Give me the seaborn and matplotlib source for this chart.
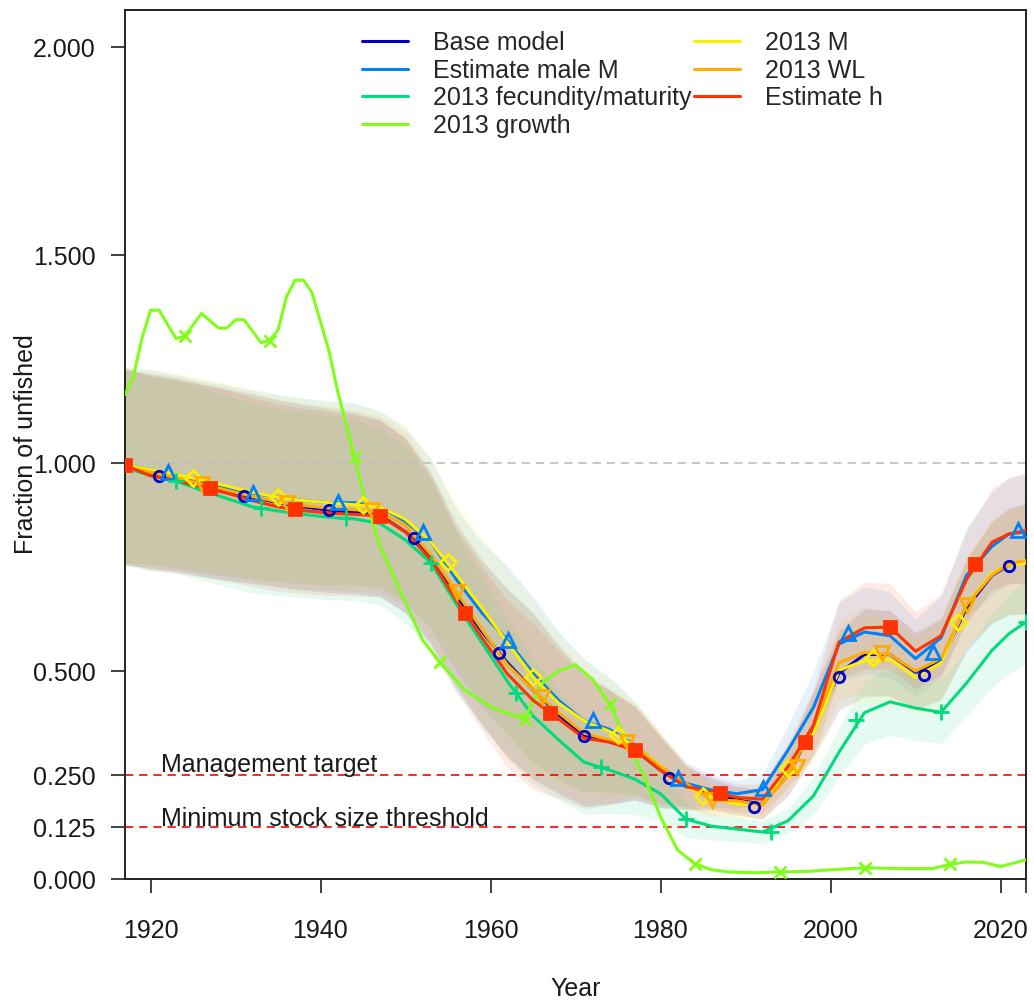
import numpy as np
import pandas as pd
import matplotlib
matplotlib.use("Agg")
import matplotlib.pyplot as plt
from matplotlib.lines import Line2D
import seaborn as sns

# ---------------- data ----------------
models = ["Base model", "Estimate male M", "2013 fecundity/maturity", "2013 growth",
          "2013 M", "2013 WL", "Estimate h"]
colors = ["#0000C6", "#0081F8", "#02DA7D", "#80FE1A", "#FDEE02", "#FFAB00", "#FF3300"]

years = [1917, 1920, 1923, 1926, 1929, 1932, 1935, 1938, 1941, 1944, 1947, 1950, 1953,
         1956, 1959, 1962, 1965, 1968, 1971, 1974, 1977, 1980, 1983, 1986, 1989, 1992,
         1995, 1998, 2001, 2004, 2007, 2010, 2013, 2016, 2019, 2021, 2023]

base = [0.990, 0.975, 0.962, 0.945, 0.930, 0.918, 0.905, 0.895, 0.887, 0.882, 0.875, 0.835, 0.775,
        0.680, 0.595, 0.520, 0.455, 0.395, 0.344, 0.330, 0.310, 0.262, 0.222, 0.205, 0.190, 0.180,
        0.250, 0.365, 0.495, 0.540, 0.540, 0.497, 0.525, 0.652, 0.730, 0.755, 0.763]
male_m = [0.995, 0.985, 0.970, 0.955, 0.940, 0.928, 0.918, 0.910, 0.905, 0.905, 0.895, 0.860, 0.810,
          0.720, 0.640, 0.574, 0.495, 0.430, 0.380, 0.360, 0.322, 0.270, 0.230, 0.214, 0.205, 0.215,
          0.310, 0.413, 0.565, 0.594, 0.585, 0.530, 0.580, 0.730, 0.800, 0.830, 0.835]
fecund = [0.990, 0.970, 0.957, 0.935, 0.915, 0.895, 0.885, 0.877, 0.870, 0.866, 0.855, 0.815, 0.760,
          0.660, 0.568, 0.475, 0.392, 0.335, 0.281, 0.262, 0.240, 0.205, 0.144, 0.127, 0.120, 0.113,
          0.140, 0.200, 0.305, 0.400, 0.426, 0.411, 0.401, 0.471, 0.550, 0.590, 0.618]
m2013 = [0.995, 0.985, 0.972, 0.960, 0.945, 0.930, 0.918, 0.910, 0.905, 0.900, 0.895, 0.865, 0.810,
         0.732, 0.652, 0.568, 0.486, 0.423, 0.380, 0.355, 0.320, 0.272, 0.222, 0.195, 0.180, 0.180,
         0.267, 0.350, 0.502, 0.525, 0.528, 0.485, 0.520, 0.660, 0.735, 0.755, 0.760]
wl2013 = [0.990, 0.978, 0.965, 0.950, 0.935, 0.920, 0.907, 0.898, 0.892, 0.888, 0.883, 0.850, 0.780,
          0.690, 0.600, 0.515, 0.455, 0.400, 0.351, 0.334, 0.318, 0.270, 0.230, 0.190, 0.188, 0.178,
          0.250, 0.370, 0.520, 0.545, 0.540, 0.500, 0.530, 0.659, 0.731, 0.758, 0.766]
est_h = [0.995, 0.970, 0.958, 0.943, 0.928, 0.910, 0.895, 0.886, 0.880, 0.877, 0.873, 0.835, 0.767,
         0.670, 0.580, 0.493, 0.430, 0.385, 0.339, 0.329, 0.310, 0.262, 0.222, 0.210, 0.196, 0.192,
         0.270, 0.370, 0.570, 0.604, 0.606, 0.548, 0.585, 0.720, 0.810, 0.830, 0.838]

growth_years = [1917, 1918, 1919, 1920, 1921, 1923, 1924, 1926, 1928, 1929, 1930, 1931, 1933, 1934,
                1935, 1936, 1937, 1938, 1939, 1941, 1942, 1944, 1945, 1947, 1949, 1952, 1954, 1957,
                1960, 1962, 1964, 1966, 1968, 1970, 1972, 1974, 1976, 1978, 1980, 1982, 1984, 1986,
                1988, 1991, 1994, 1997, 2000, 2004, 2008, 2012, 2014, 2016, 2018, 2020, 2023]
growth = [1.165, 1.210, 1.300, 1.368, 1.368, 1.300, 1.305, 1.360, 1.325, 1.325, 1.345, 1.345, 1.290,
          1.295, 1.320, 1.400, 1.440, 1.440, 1.410, 1.270, 1.175, 1.014, 0.930, 0.800, 0.710, 0.575,
          0.522, 0.454, 0.414, 0.399, 0.385, 0.470, 0.500, 0.515, 0.480, 0.422, 0.330, 0.250, 0.150,
          0.070, 0.037, 0.022, 0.017, 0.015, 0.017, 0.018, 0.022, 0.027, 0.025, 0.025, 0.035, 0.041,
          0.040, 0.030, 0.046]

# distance from each line to the upper / lower edge of its 95% interval
up_common = [0.235, 0.240, 0.243, 0.246, 0.248, 0.248, 0.247, 0.246, 0.245, 0.240, 0.230, 0.225, 0.200,
             0.170, 0.170, 0.178, 0.185, 0.165, 0.150, 0.125, 0.105, 0.080, 0.050, 0.037, 0.032, 0.037,
             0.060, 0.085, 0.100, 0.110, 0.105, 0.095, 0.100, 0.115, 0.130, 0.135, 0.140]
lo_common = [0.235, 0.228, 0.222, 0.217, 0.212, 0.207, 0.203, 0.200, 0.198, 0.196, 0.195, 0.195, 0.210,
             0.220, 0.225, 0.225, 0.215, 0.190, 0.170, 0.150, 0.120, 0.090, 0.055, 0.040, 0.035, 0.035,
             0.050, 0.070, 0.090, 0.100, 0.100, 0.090, 0.095, 0.105, 0.115, 0.120, 0.125]
up_fecund = [0.235, 0.240, 0.243, 0.246, 0.248, 0.248, 0.247, 0.246, 0.245, 0.240, 0.230, 0.225, 0.200,
             0.170, 0.160, 0.150, 0.140, 0.120, 0.110, 0.090, 0.075, 0.060, 0.040, 0.030, 0.028, 0.027,
             0.030, 0.045, 0.060, 0.075, 0.080, 0.078, 0.075, 0.080, 0.090, 0.095, 0.100]
lo_fecund = [0.235, 0.228, 0.222, 0.217, 0.212, 0.207, 0.203, 0.200, 0.198, 0.196, 0.195, 0.200, 0.210,
             0.210, 0.200, 0.185, 0.165, 0.145, 0.125, 0.105, 0.085, 0.065, 0.045, 0.033, 0.030, 0.028,
             0.030, 0.045, 0.060, 0.075, 0.080, 0.078, 0.075, 0.080, 0.090, 0.095, 0.100]

# plotted symbols
mk_base_years = [1921, 1931, 1941, 1951, 1961, 1971, 1981, 1991, 2001, 2011, 2021]
mk_base = [0.969, 0.921, 0.887, 0.820, 0.543, 0.344, 0.243, 0.173, 0.486, 0.490, 0.752]
mk_malem_years = [1922, 1932, 1942, 1952, 1962, 1972, 1982, 1992, 2002, 2012, 2022]
mk_malem = [0.978, 0.928, 0.907, 0.834, 0.574, 0.382, 0.243, 0.219, 0.591, 0.546, 0.839]
mk_fec_years = [1923, 1933, 1943, 1953, 1963, 1973, 1983, 1993, 2003, 2013, 2023]
mk_fec = [0.957, 0.892, 0.868, 0.760, 0.447, 0.269, 0.144, 0.112, 0.382, 0.401, 0.618]
mk_growth_years = [1924, 1934, 1944, 1954, 1964, 1974, 1984, 1994, 2004, 2014]
mk_growth = [1.305, 1.293, 1.014, 0.522, 0.385, 0.422, 0.037, 0.017, 0.027, 0.035]
mk_m_years = [1925, 1935, 1945, 1955, 1965, 1975, 1985, 1995, 2005, 2015]
mk_m = [0.964, 0.918, 0.899, 0.762, 0.486, 0.346, 0.200, 0.267, 0.531, 0.618]
mk_wl_years = [1926, 1936, 1946, 1956, 1966, 1976, 1986, 1996, 2006, 2016]
mk_wl = [0.950, 0.904, 0.887, 0.690, 0.438, 0.329, 0.190, 0.269, 0.543, 0.659]
mk_h_years = [1917, 1927, 1937, 1947, 1957, 1967, 1977, 1987, 1997, 2007, 2017]
mk_h = [0.995, 0.940, 0.889, 0.873, 0.639, 0.399, 0.310, 0.207, 0.330, 0.606, 0.757]

yticks = [0.0, 0.125, 0.25, 0.5, 1.0, 1.5, 2.0]
xticks = [1920, 1940, 1960, 1980, 2000, 2020, 2023]
xticklabels = ["1920", "1940", "1960", "1980", "2000", "2020", ""]

# ---------------- figure ----------------
sns.set_theme(style="ticks")
plt.rcParams["font.family"] = ["Liberation Sans", "DejaVu Sans"]

fig = plt.figure(figsize=(10.34, 10.05), dpi=100)
ax = fig.add_axes([125 / 1034, 1 - 879 / 1005, 901 / 1034, 869 / 1005])

series = {
    "Base model": (years, base, up_common, lo_common),
    "Estimate male M": (years, male_m, up_common, lo_common),
    "2013 fecundity/maturity": (years, fecund, up_fecund, lo_fecund),
    "2013 growth": (growth_years, growth, None, None),
    "2013 M": (years, m2013, up_common, lo_common),
    "2013 WL": (years, wl2013, up_common, lo_common),
    "Estimate h": (years, est_h, up_common, lo_common),
}
palette = dict(zip(models, colors))

# uncertainty bands
for name in models:
    yr, v, up, lo = series[name]
    if up is None:
        continue
    v = np.asarray(v)
    ax.fill_between(yr, v - np.asarray(lo), v + np.asarray(up), color=palette[name],
                    alpha=0.1, lw=0, zorder=1)

# reference lines
ax.axhline(1.0, color="#BEBEBE", lw=1.2, ls=(0, (5, 3.5)), zorder=2)
ax.axhline(0.25, color="#FF0000", lw=1.2, ls=(0, (5, 3.5)), zorder=2)
ax.axhline(0.125, color="#FF0000", lw=1.2, ls=(0, (5, 3.5)), zorder=2)

# lines
rows = []
for name in models:
    yr, v, _, _ = series[name]
    for a, b in zip(yr, v):
        rows.append((name, a, b))
df = pd.DataFrame(rows, columns=["Model", "Year", "Value"])
sns.lineplot(data=df, x="Year", y="Value", hue="Model", hue_order=models, palette=palette,
             estimator=None, sort=True, lw=2.2, legend=False, ax=ax, zorder=3)

# symbols
marks = [
    (mk_base_years, mk_base, "o", 7.5, True),
    (mk_malem_years, mk_malem, "^", 10, True),
    (mk_fec_years, mk_fec, "+", 11, False),
    (mk_growth_years, mk_growth, "x", 9, False),
    (mk_m_years, mk_m, "D", 8.5, True),
    (mk_wl_years, mk_wl, "v", 10, True),
    (mk_h_years, mk_h, "s", 9, False),
]
for name, (yr, v, m, ms, hollow) in zip(models, marks):
    c = palette[name]
    if hollow:
        ax.plot(yr, v, ls="none", marker=m, ms=ms, mfc="none", mec=c, mew=2, zorder=4)
    else:
        ax.plot(yr, v, ls="none", marker=m, ms=ms, color=c, mew=2, zorder=4)

ax.text(1921.2, 0.258, "Management target", fontsize=18, color="#1a1a1a", ha="left", va="baseline")
ax.text(1921.2, 0.127, "Minimum stock size threshold", fontsize=18, color="#1a1a1a", ha="left",
        va="baseline")

ax.set_xlim(1917, 2023)
ax.set_ylim(0, 2.09)
ax.set_yticks(yticks)
ax.set_yticklabels([f"{t:.3f}" for t in yticks])
ax.set_xticks(xticks)
ax.set_xticklabels(xticklabels)

for s in ax.spines.values():
    s.set_color("#222222")
    s.set_linewidth(1.4)
ax.tick_params(axis="both", direction="out", length=10, width=1.3, color="#333333",
               labelsize=18, labelcolor="#1a1a1a")
ax.tick_params(axis="x", pad=19)
ax.tick_params(axis="y", pad=11)

ax.set_xlabel("Year", fontsize=18, color="#1a1a1a")
ax.set_ylabel("Fraction of unfished", fontsize=18, color="#1a1a1a")
ax.xaxis.set_label_coords(0.5, -0.113)
ax.yaxis.set_label_coords(-0.097, 0.5)

handles = [Line2D([0], [0], color=palette[n], lw=2.2) for n in models]
ax.legend(handles, models, ncol=2, loc="upper left", bbox_to_anchor=(362 / 1034, 1 - 31 / 1005),
          bbox_transform=fig.transFigure, frameon=False, fontsize=18, handlelength=1.84,
          handletextpad=1.0, columnspacing=0.1, labelspacing=0.14, borderpad=0, borderaxespad=0)

fig.savefig("out.png", dpi=100)
